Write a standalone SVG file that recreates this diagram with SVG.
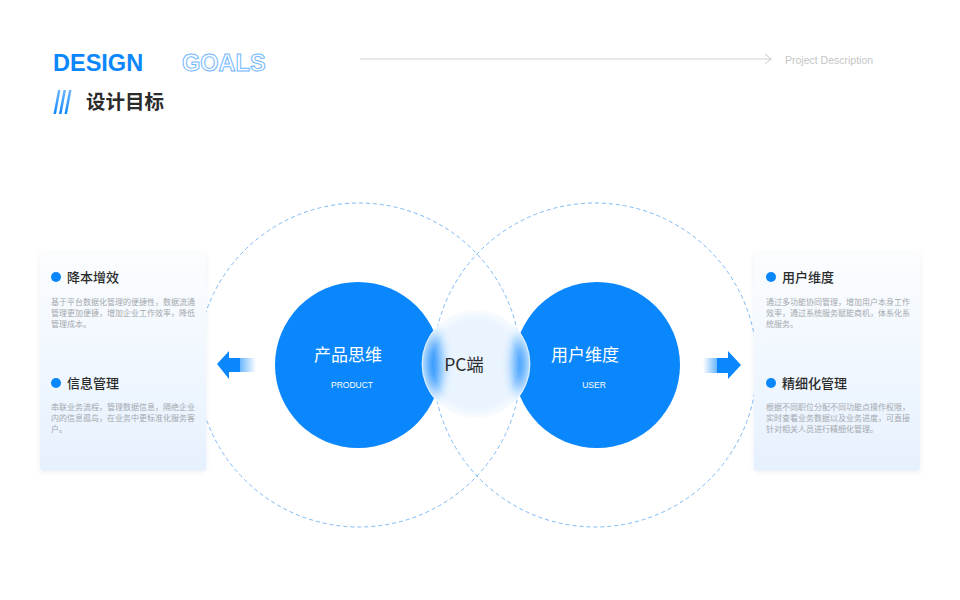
<svg xmlns="http://www.w3.org/2000/svg" width="960" height="600" viewBox="0 0 960 600">
<defs>
<style>
.cn{font-family:"Noto Sans CJK SC","Noto Sans",sans-serif}
.en{font-family:"Liberation Sans","Noto Sans",sans-serif}
.h{font-size:13px;fill:#2b2b2b;font-weight:500}
.b{font-size:8px;fill:#a5a8ad}
.dash{fill:none;stroke:#7db9f6;stroke-width:1;stroke-dasharray:4 3}
.dot{fill:#0a87fd}
.big{fill:#0a87fd}
.card{fill:url(#cardGrad);filter:url(#shadow)}
</style>
<linearGradient id="cardGrad" x1="0" y1="0" x2="0" y2="1">
<stop offset="0" stop-color="#fbfdff"/>
<stop offset="1" stop-color="#e6f1fe"/>
</linearGradient>
<filter id="shadow" x="-20%" y="-20%" width="140%" height="140%">
<feDropShadow dx="0" dy="1" stdDeviation="2.5" flood-color="#8aa6c8" flood-opacity="0.18"/>
</filter>
<filter id="blur" x="-30%" y="-30%" width="160%" height="160%">
<feGaussianBlur stdDeviation="6"/>
</filter>
<clipPath id="pcClip"><circle cx="476" cy="364" r="54"/></clipPath>
<radialGradient id="edgeGlow" cx="0.5" cy="0.5" r="0.5">
<stop offset="0.8" stop-color="#ffffff" stop-opacity="0"/>
<stop offset="1" stop-color="#ffffff" stop-opacity="0.7"/>
</radialGradient>
<linearGradient id="fadeL" x1="1" y1="0" x2="0" y2="0">
<stop offset="0" stop-color="#0a87fd" stop-opacity="0"/>
<stop offset="1" stop-color="#0a87fd" stop-opacity="0.6"/>
</linearGradient>
<linearGradient id="fadeR" x1="0" y1="0" x2="1" y2="0">
<stop offset="0" stop-color="#0a87fd" stop-opacity="0"/>
<stop offset="1" stop-color="#0a87fd" stop-opacity="0.6"/>
</linearGradient>
<linearGradient id="slashGrad" x1="0" y1="1" x2="0" y2="0">
<stop offset="0" stop-color="#0a87fd"/>
<stop offset="1" stop-color="#6fb6ff"/>
</linearGradient>
</defs>

<rect width="960" height="600" fill="#ffffff"/>

<g id="header">
<text x="53" y="71" class="en" font-size="23.5" font-weight="bold" fill="#0a87fd">DESIGN</text>
<text x="182" y="71" class="en" font-size="23.5" font-weight="bold" fill="#ffffff" stroke="#6fb6ff" stroke-width="1">GOALS</text>
<g fill="url(#slashGrad)">
<polygon points="58,90 60.5,90 56,114 53.5,114"/>
<polygon points="63.5,90 66,90 61.5,114 59,114"/>
<polygon points="69,90 71.5,90 67,114 64.5,114"/>
</g>
<text x="86" y="109" class="cn" font-size="19.5" font-weight="bold" fill="#2b2b2b">设计目标</text>
<line x1="360" y1="59" x2="772" y2="59" stroke="#d2d2d2" stroke-width="1"/>
<polyline points="765,54 771,59 765,64" fill="none" stroke="#c8c8c8" stroke-width="1"/>
<text x="785" y="64" class="en" font-size="10.5" fill="#c6c6c6">Project Description</text>
</g>

<g id="dashed-rings">
<circle class="dash" cx="359" cy="365" r="162"/>
<circle class="dash" cx="595" cy="365" r="162"/>
</g>

<g id="card-left">
<rect class="card" x="40" y="253" width="166" height="218" rx="4"/>
<circle class="dot" cx="56" cy="277" r="5"/>
<text x="67" y="282" class="cn h">降本增效</text>
<text class="cn b"><tspan x="51" y="305">基于平台数据化管理的便捷性，数据流通</tspan><tspan x="51" y="316">管理更加便捷，增加企业工作效率，降低</tspan><tspan x="51" y="327">管理成本。</tspan></text>
<circle class="dot" cx="56" cy="383" r="5"/>
<text x="67" y="388" class="cn h">信息管理</text>
<text class="cn b"><tspan x="51" y="410">串联业务流程，管理数据信息，隔绝企业</tspan><tspan x="51" y="421">内的信息孤岛，在业务中更标准化服务客</tspan><tspan x="51" y="432">户。</tspan></text>
</g>

<g id="card-right">
<rect class="card" x="754" y="253" width="166" height="218" rx="4"/>
<circle class="dot" cx="771" cy="277" r="5"/>
<text x="782" y="282" class="cn h">用户维度</text>
<text class="cn b"><tspan x="766" y="305">通过多功能协同管理，增加用户本身工作</tspan><tspan x="766" y="316">效率，通过系统服务赋能商机，体系化系</tspan><tspan x="766" y="327">统服务。</tspan></text>
<circle class="dot" cx="771" cy="383" r="5"/>
<text x="782" y="388" class="cn h">精细化管理</text>
<text class="cn b"><tspan x="766" y="410">根据不同职位分配不同功能点操作权限，</tspan><tspan x="766" y="421">实时查看业务数据以及业务进度，可直接</tspan><tspan x="766" y="432">针对相关人员进行精细化管理。</tspan></text>
</g>

<g id="node-product">
<circle class="big" cx="358" cy="365" r="83"/>
<text x="348" y="361" class="cn" font-size="17" fill="#ffffff" text-anchor="middle">产品思维</text>
<text x="352" y="388" class="en" font-size="8.5" fill="#ffffff" text-anchor="middle">PRODUCT</text>
</g>

<g id="node-user">
<circle class="big" cx="597" cy="365" r="83"/>
<text x="585" y="361" class="cn" font-size="17" fill="#ffffff" text-anchor="middle">用户维度</text>
<text x="594" y="388" class="en" font-size="8.5" fill="#ffffff" text-anchor="middle">USER</text>
</g>

<g id="node-pc">
<g clip-path="url(#pcClip)">
<rect x="420" y="308" width="112" height="112" fill="#eaf4ff"/>
<g filter="url(#blur)" opacity="0.85">
<circle cx="358" cy="365" r="83" fill="#0a87fd"/>
<circle cx="597" cy="365" r="83" fill="#0a87fd"/>
</g>
<circle cx="476" cy="364" r="54" fill="url(#edgeGlow)"/>
</g>
<circle cx="476" cy="364" r="54" fill="none" stroke="#ffffff" stroke-opacity="0.7" stroke-width="1"/>
<text x="464" y="371" class="cn" font-size="17.5" fill="#2b2b2b" text-anchor="middle">PC端</text>
</g>

<g id="connectors">
<g id="arrow-left">
<rect x="240" y="358" width="16" height="14" fill="url(#fadeL)"/>
<polygon points="217,364 229,351 229,358 240,358 240,372 229,372 229,379" fill="#0a87fd"/>
</g>
<g id="arrow-right">
<rect x="703" y="358" width="14" height="15" fill="url(#fadeR)"/>
<polygon points="741,365 728,351 728,358 717,358 717,373 728,373 728,379" fill="#0a87fd"/>
</g>
</g>
</svg>
